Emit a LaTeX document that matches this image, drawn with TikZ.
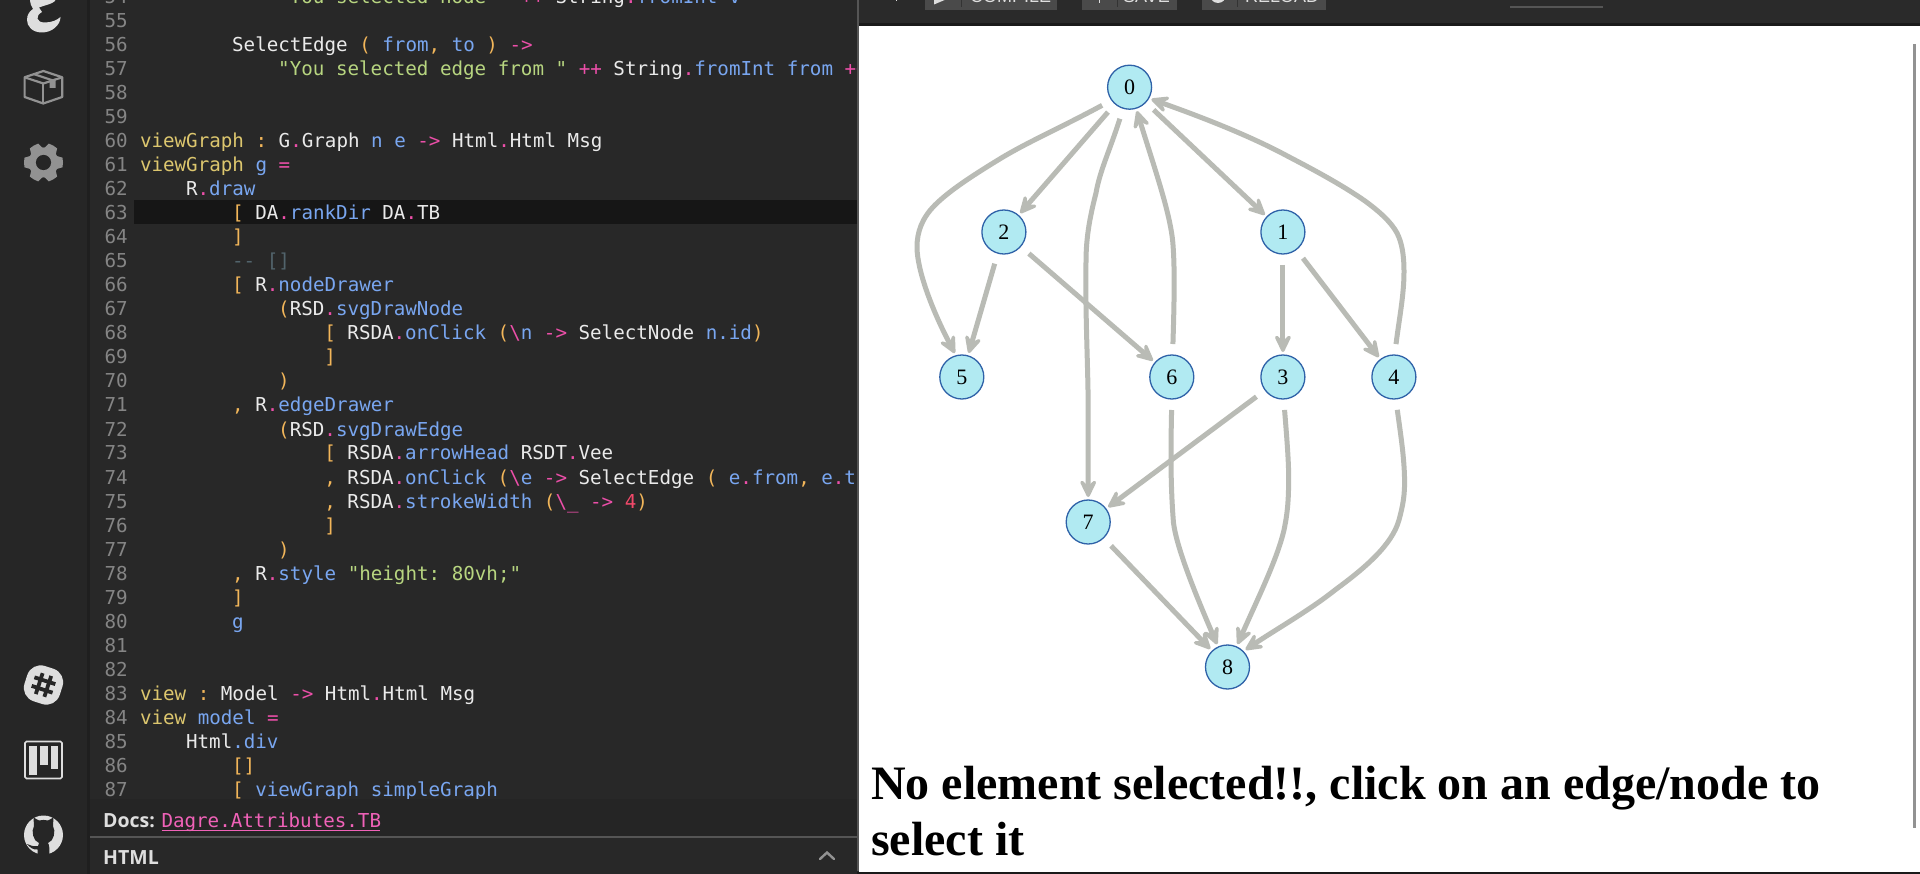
\documentclass[tikz,border=0pt]{standalone}
\usepackage{fontspec}
\usetikzlibrary{arrows.meta}
\setmainfont{Liberation Serif}
\newfontfamily\codefont{DejaVu Sans Mono}
\newfontfamily\uifont{Open Sans}
\newfontfamily\btnfont{Liberation Sans}
\definecolor{bgdark}{HTML}{282828}
\definecolor{sidebar}{HTML}{262626}
\definecolor{divider}{HTML}{1F1F1F}
\definecolor{hiline}{HTML}{161616}
\definecolor{docsbar}{HTML}{252525}
\definecolor{sepgray}{HTML}{555555}
\definecolor{topbar}{HTML}{2A2A2A}
\definecolor{topedge}{HTML}{1A1A1A}
\definecolor{btnbg}{HTML}{4A4A4A}
\definecolor{lnum}{HTML}{858585}
\definecolor{codewhite}{HTML}{EAEAEA}
\definecolor{codeblue}{HTML}{79A6F0}
\definecolor{codeyellow}{HTML}{DCC66E}
\definecolor{codepink}{HTML}{EC4FA9}
\definecolor{codeorange}{HTML}{F2B65A}
\definecolor{codegreen}{HTML}{B7D580}
\definecolor{codered}{HTML}{F2496A}
\definecolor{codecomment}{HTML}{52646C}
\definecolor{docpink}{HTML}{F062B8}
\definecolor{edgegray}{HTML}{B9BBB5}
\definecolor{nodefill}{HTML}{B1EAF2}
\definecolor{nodeline}{HTML}{2F62A8}
\definecolor{iconlight}{HTML}{DEDEDE}
\definecolor{icongray}{HTML}{929292}
\newcommand\cW[1]{\textcolor{codewhite}{#1}}
\newcommand\cB[1]{\textcolor{codeblue}{#1}}
\newcommand\cY[1]{\textcolor{codeyellow}{#1}}
\newcommand\cP[1]{\textcolor{codepink}{#1}}
\newcommand\cO[1]{\textcolor{codeorange}{#1}}
\newcommand\cG[1]{\textcolor{codegreen}{#1}}
\newcommand\cR[1]{\textcolor{codered}{#1}}
\newcommand\cC[1]{\textcolor{codecomment}{#1}}
\newcommand\bs{\textbackslash}
\newcommand\codeline[3]{\node[codetext] (L#1) at ({140+#2*11.52},{24*#1-1292}) {#3};}
\tikzset{
  x=1pt,y=-1pt,
  codetext/.style={anchor=base west,inner sep=0pt,outer sep=0pt,font=\codefont\fontsize{19.2}{24}\selectfont\frenchspacing},
  lineno/.style={anchor=base east,inner sep=0pt,text=lnum,font=\codefont\fontsize{19.2}{24}\selectfont},
  uitext/.style={anchor=base west,inner sep=0pt,text=iconlight,font=\uifont\bfseries\fontsize{19.5}{24}\selectfont},
  btntext/.style={anchor=base west,inner sep=0pt,text=iconlight,font=\btnfont\fontsize{18}{20}\selectfont},
  gnode/.style={circle,draw=nodeline,line width=1.3pt,fill=nodefill,minimum size=44pt,inner sep=0pt,outer sep=0pt,font=\fontsize{22}{24}\selectfont},
  gedge/.style={draw=edgegray,line width=5pt,shorten <=11pt,shorten >=3pt,
    -{Stealth[length=24pt,width=23pt,inset=11pt,round=false]}},
  headtext/.style={anchor=base west,inner sep=0pt,font=\bfseries\fontsize{48}{56}\selectfont},
  btnbox/.style={fill=btnbg,draw=none},
  btnsep/.style={draw=sepgray!60!black,line width=0.8pt},
}
\begin{document}
\begin{tikzpicture}
\useasboundingbox (0,0) rectangle (1920,874);
\clip (0,0) rectangle (1920,874);
% backgrounds
\fill[bgdark] (0,0) rectangle (1920,874);
\fill[sidebar] (0,0) rectangle (87,874);
\fill[divider] (87,0) rectangle (90,874);
\fill[hiline] (134,200) rectangle (857,224);
% line numbers
\foreach \n in {54,...,87} {\node[lineno] (num\n) at (128,{24*\n-1292}) {\n};}
% code
\begin{scope}
\clip (90,0) rectangle (857,799);
\codeline{54}{12}{\cG{"You selected node "} \cP{++} \cW{String}\cP{.}\cB{fromInt} \cB{v}}
\codeline{56}{8}{\cW{SelectEdge} \cO{(} \cB{from}\cO{,} \cB{to} \cO{)} \cP{->}}
\codeline{57}{12}{\cG{"You selected edge from "} \cP{++} \cW{String}\cP{.}\cB{fromInt} \cB{from} \cP{++}}
\codeline{60}{0}{\cY{viewGraph} \cO{:} \cW{G}\cP{.}\cW{Graph} \cB{n} \cB{e} \cP{->} \cW{Html}\cP{.}\cW{Html} \cW{Msg}}
\codeline{61}{0}{\cY{viewGraph} \cB{g} \cP{=}}
\codeline{62}{4}{\cW{R}\cP{.}\cB{draw}}
\codeline{63}{8}{\cO{[} \cW{DA}\cP{.}\cB{rankDir} \cW{DA}\cP{.}\cW{TB}}
\codeline{64}{8}{\cO{]}}
\codeline{65}{8}{\cC{-{}- []}}
\codeline{66}{8}{\cO{[} \cW{R}\cP{.}\cB{nodeDrawer}}
\codeline{67}{12}{\cO{(}\cW{RSD}\cP{.}\cB{svgDrawNode}}
\codeline{68}{16}{\cO{[} \cW{RSDA}\cP{.}\cB{onClick} \cO{(}\cP{\bs}\cB{n} \cP{->} \cW{SelectNode} \cB{n.id}\cO{)}}
\codeline{69}{16}{\cO{]}}
\codeline{70}{12}{\cO{)}}
\codeline{71}{8}{\cO{,} \cW{R}\cP{.}\cB{edgeDrawer}}
\codeline{72}{12}{\cO{(}\cW{RSD}\cP{.}\cB{svgDrawEdge}}
\codeline{73}{16}{\cO{[} \cW{RSDA}\cP{.}\cB{arrowHead} \cW{RSDT}\cP{.}\cW{Vee}}
\codeline{74}{16}{\cO{,} \cW{RSDA}\cP{.}\cB{onClick} \cO{(}\cP{\bs}\cB{e} \cP{->} \cW{SelectEdge} \cO{(} \cB{e}\cP{.}\cB{from}\cO{,} \cB{e}\cP{.}\cB{to}}
\codeline{75}{16}{\cO{,} \cW{RSDA}\cP{.}\cB{strokeWidth} \cO{(}\cP{\bs\_} \cP{->} \cR{4}\cO{)}}
\codeline{76}{16}{\cO{]}}
\codeline{77}{12}{\cO{)}}
\codeline{78}{8}{\cO{,} \cW{R}\cP{.}\cB{style} \cG{"height: 80vh;"}}
\codeline{79}{8}{\cO{]}}
\codeline{80}{8}{\cB{g}}
\codeline{83}{0}{\cY{view} \cO{:} \cW{Model} \cP{->} \cW{Html}\cP{.}\cW{Html} \cW{Msg}}
\codeline{84}{0}{\cY{view} \cB{model} \cP{=}}
\codeline{85}{4}{\cW{Html}\cB{.div}}
\codeline{86}{8}{\cO{[]}}
\codeline{87}{8}{\cO{[} \cB{viewGraph} \cB{simpleGraph}}
\end{scope}
% docs and html bars
\fill[docsbar] (90,799) rectangle (857,836);
\fill[sepgray] (90,836) rectangle (857,838);
\node[uitext] (docs) at (103,827) {Docs:};
\node[codetext,text=docpink] (docref) at (161.5,827) {Dagre.Attributes.TB};
\draw[docpink,line width=1pt] (docref.base west)++(0,3.2) -- ++(218,0);
\node[uitext] (html) at (103,864) {HTML};
\draw[icongray,line width=2.4pt,line cap=round] (820,859) -- (827,852.5) -- (834,859);
% top bar right
\fill[topbar] (857,0) rectangle (1920,23);
\fill[topedge] (857,23) rectangle (1920,26);
\fill[btnbox] (925,0) rectangle (1057,10.5);
\fill[btnbox] (1082,0) rectangle (1177,10.5);
\fill[btnbox] (1202,0) rectangle (1326,10.5);
\draw[btnsep] (961,0) -- (961,7);
\draw[btnsep] (1117,0) -- (1117,7);
\draw[btnsep] (1237,0) -- (1237,7);
\node[btntext] (tc) at (970,3) {COMPILE};
\node[btntext] (ts) at (1123,3) {SAVE};
\node[btntext] (tr) at (1245,3) {RELOAD};
\fill[iconlight] (934,-4) -- (947,-1) -- (934,4.5) -- cycle;
\fill[iconlight] (1098.5,-4) rectangle (1100,3);
\fill[iconlight] (1218,-5) circle (8);
\fill[iconlight] (895.5,0) rectangle (897,1.2);
\fill[sepgray] (1510,6.5) rectangle (1603,7.8);
% right panel
\fill[sepgray] (857,0) rectangle (859,871);
\fill[white] (859,26) rectangle (1920,872);
\fill[topedge] (857,872) rectangle (1920,874);
\fill[icongray] (1913,44) rectangle (1916,828);
% graph
\node[gnode] (n0) at (1129.6,87.2) {0};
\node[gnode] (n2) at (1003.9,232) {2};
\node[gnode] (n1) at (1282.9,232) {1};
\node[gnode] (n5) at (961.8,377) {5};
\node[gnode] (n6) at (1171.8,377) {6};
\node[gnode] (n3) at (1282.9,377) {3};
\node[gnode] (n4) at (1393.9,377) {4};
\node[gnode] (n7) at (1088.2,522) {7};
\node[gnode] (n8) at (1227.5,667) {8};
\draw[gedge] (n0) -- (n2);
\draw[gedge] (n0) -- (n1);
\draw[gedge] (n2) -- (n5);
\draw[gedge] (n2) -- (n6);
\draw[gedge] (n1) -- (n3);
\draw[gedge] (n1) -- (n4);
\draw[gedge] (n3) -- (n7);
\draw[gedge] (n7) -- (n8);
\draw[gedge] (n0.216) .. controls (1060,128) and (1030,141) .. (1003,157)
  .. controls (975,174) and (950,190) .. (935,205)
  .. controls (922,218) and (917,232) .. (917,247)
  .. controls (917,270) and (932,310) .. (n5.105);
\draw[gedge] (n0.-107) .. controls (1110,150) and (1100,170) .. (1096,193)
  .. controls (1089,220) and (1086,240) .. (1086,262)
  .. controls (1085,310) and (1088.2,370) .. (1088.2,410) -- (n7.90);
\draw[gedge] (n6.88) .. controls (1174,310) and (1175,270) .. (1173,245)
  .. controls (1171,215) and (1155,170) .. (n0.-73);
\draw[gedge] (n4.88) .. controls (1399,320) and (1404,295) .. (1404,272)
  .. controls (1404,255) and (1402,243) .. (1397,233)
  .. controls (1391,222) and (1380,212) .. (1365,201)
  .. controls (1345,187) and (1320,173) .. (1288.6,156.7)
  .. controls (1245,133) and (1190,113) .. (n0.-30);
\draw[gedge] (n6.-90) .. controls (1171,440) and (1170,480) .. (1173.5,523)
  .. controls (1177,550) and (1198,600) .. (n8.115);
\draw[gedge] (n3.-88) .. controls (1287,440) and (1289.5,470) .. (1288.5,490)
  .. controls (1288,510) and (1286,520) .. (1284,530)
  .. controls (1277,560) and (1257,600) .. (n8.66);
\draw[gedge] (n4.-85) .. controls (1400,430) and (1404,455) .. (1404.5,477)
  .. controls (1405,495) and (1403,505) .. (1399,520)
  .. controls (1392,545) and (1365,568) .. (1335,590)
  .. controls (1310,610) and (1275,630) .. (n8.45);
% heading
\node[headtext] (h1) at (871,799) {No element selected!!, click on an edge/node to};
\node[headtext] (h2) at (871,855) {select it};
% sidebar icons
\fill[iconlight] (30,-2) -- (57,-2) .. controls (55,4) and (45,5) .. (39,7.5)
  -- (42,12) .. controls (35,16) and (36,22.5) .. (45,22.5)
  .. controls (52,22.5) and (57,20) .. (60.5,17)
  .. controls (60.5,25) and (52,32.5) .. (42,32.5)
  .. controls (32,32.5) and (27,26) .. (27,20)
  .. controls (27,14) and (30,11) .. (33,9)
  .. controls (31,6) and (30,3) .. (30,-2) -- cycle;
\begin{scope}[draw=icongray,line width=2.2pt,line join=round]
\draw (43.3,71) -- (62.2,77.3) -- (62.2,97) -- (43.3,103.5) -- (24.6,97) -- (24.6,77.3) -- cycle;
\draw (24.6,77.3) -- (43.3,83.5) -- (62.2,77.3);
\draw (43.3,83.5) -- (43.3,103.5);
\draw (33.5,74) -- (53,80.5);
\end{scope}
\fill[icongray] (49.5,80.5) -- (55.5,78.5) -- (55.5,88) -- (49.5,88) -- cycle;
\foreach \a in {0,60,...,300} {
  \fill[icongray,shift={(43.5,162.5)},rotate=\a] (10,-7.5) -- (19,-4.8) -- (19.5,0) -- (19,4.8) -- (10,7.5) -- cycle;
}
\fill[icongray] (43.5,162.5) circle (15);
\fill[sidebar] (43.5,162.5) circle (7.6);
\begin{scope}[shift={(43.5,685)},rotate=-18]
\fill[iconlight,rounded corners=14pt] (-18.5,-18.5) rectangle (18.5,18.5);
\draw[sidebar,line width=3.8pt] (-4.5,-11) -- (-4.5,11) (4.5,-11) -- (4.5,11) (-11,-4.5) -- (11,-4.5) (-11,4.5) -- (11,4.5);
\end{scope}
\draw[iconlight,line width=1.6pt,rounded corners=1.5pt] (25,741.5) rectangle (62,778.5);
\fill[iconlight] (29.3,746) rectangle (37.3,775);
\fill[iconlight] (40,746) rectangle (47.7,765);
\fill[iconlight] (50.7,746) rectangle (58.3,769.3);
\fill[iconlight] (43.5,835) circle (19.5);
\fill[sidebar] (34,826) -- (33.5,817.5) -- (39,820.5) .. controls (42,819.7) and (45,819.7) .. (48,820.5)
  -- (53.5,817.5) -- (53,826) .. controls (56,831) and (54,841) .. (48,843)
  .. controls (49.5,845) and (49.5,850) .. (49.5,855) -- (37.5,855)
  .. controls (37.5,851.5) and (37.5,851) .. (37.5,849.5)
  .. controls (33,850) and (30,847.5) .. (27,844) .. controls (30,845) and (33,847) .. (38,846)
  .. controls (38,845) and (38.5,844) .. (39,843) .. controls (33,841) and (31,831) .. (34,826) -- cycle;
\end{tikzpicture}
\end{document}
